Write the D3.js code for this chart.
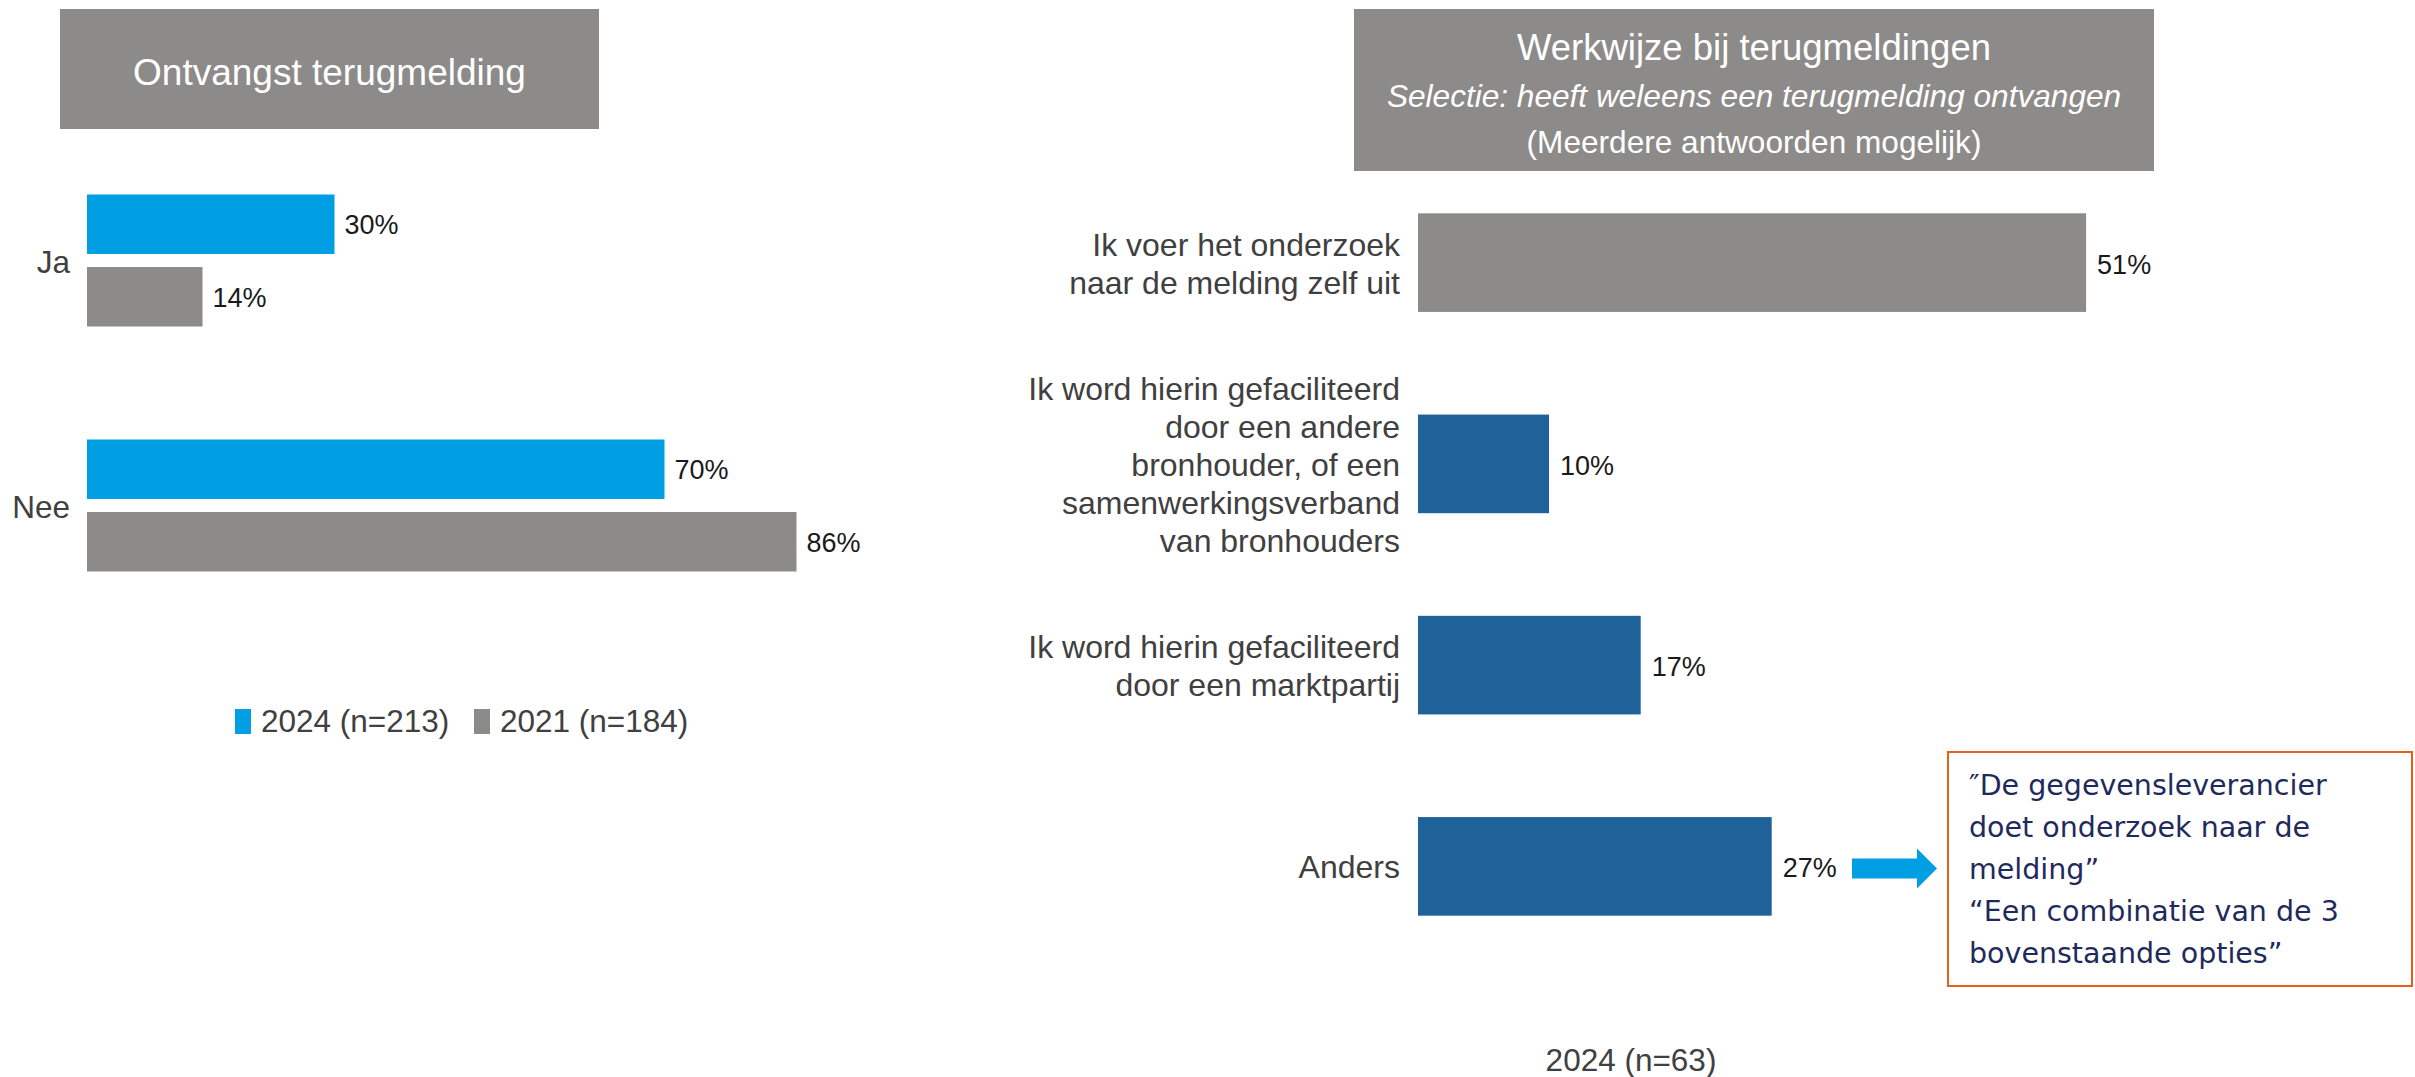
<!doctype html>
<html>
<head>
<meta charset="utf-8">
<script type='text/javascript' src='https://d3js.org/d3.v7.min.js'></script>
<style>
body { margin:0; background:#fff; }
text { font-family: "Liberation Sans", Arial, sans-serif; }
</style>
</head>
<body>
<script>
var width = 2415, height = 1077;

// data
var leftCats = ['Ja', 'Nee'];
var leftSeries = ['2024 (n=213)', '2021 (n=184)'];
var left2024 = [30, 70];
var left2021 = [14, 86];

var rightCats = [
  ['Ik voer het onderzoek', 'naar de melding zelf uit'],
  ['Ik word hierin gefaciliteerd', 'door een andere', 'bronhouder, of een', 'samenwerkingsverband', 'van bronhouders'],
  ['Ik word hierin gefaciliteerd', 'door een marktpartij'],
  ['Anders']
];
var right2024 = [51, 10, 17, 27];
var rightLegend = '2024 (n=63)';

var noteLines = ['\u2033De gegevensleverancier', 'doet onderzoek naar de', 'melding\u201D', '\u201CEen combinatie van de 3', 'bovenstaande opties\u201D'];

var blue = '#009fe3', grey = '#8c8b89', darkBlue = '#1f6299';

var svg = d3.select('body').append('svg').attr('width', width).attr('height', height);

// ---------- left chart
svg.append('rect').attr('x', 60).attr('y', 9).attr('width', 539).attr('height', 120).attr('fill', grey);
svg.append('text').attr('x', 329.5).attr('y', 85).attr('text-anchor', 'middle')
  .attr('fill', '#fff').style('font-size', '37px').text('Ontvangst terugmelding');

var xL = d3.scaleLinear().domain([0, 100]).range([87, 912]);
var yL = d3.scaleBand().domain(leftCats).range([138, 628]);
var yIn = d3.scaleBand().domain(leftSeries).range([-66, 66]).paddingInner(0.18);
var colL = d3.scaleOrdinal().domain(leftSeries).range([blue, grey]);

var rowsL = [];
leftCats.forEach(function(c, i) {
  rowsL.push({cat: c, s: leftSeries[0], v: left2024[i]});
  rowsL.push({cat: c, s: leftSeries[1], v: left2021[i]});
});

var gL = svg.append('g');
gL.selectAll('rect.bar').data(rowsL).join('rect')
  .attr('class', 'bar')
  .attr('x', xL(0))
  .attr('y', function(d) { return yL(d.cat) + yL.bandwidth() / 2 + yIn(d.s); })
  .attr('width', function(d) { return xL(d.v) - xL(0); })
  .attr('height', yIn.bandwidth())
  .attr('fill', function(d) { return colL(d.s); });

gL.selectAll('text.val').data(rowsL).join('text')
  .attr('class', 'val')
  .attr('x', function(d) { return xL(d.v) + 10; })
  .attr('y', function(d) { return yL(d.cat) + yL.bandwidth() / 2 + yIn(d.s) + yIn.bandwidth() / 2 + 10; })
  .attr('fill', '#1a1a1a').style('font-size', '27px')
  .text(function(d) { return d.v + '%'; });

gL.selectAll('text.cat').data(leftCats).join('text')
  .attr('class', 'cat')
  .attr('x', 70).attr('text-anchor', 'end')
  .attr('y', function(d) { return yL(d) + yL.bandwidth() / 2 + 12; })
  .attr('fill', '#404040').style('font-size', '31.5px')
  .text(function(d) { return d; });

// legend
var legX = [235, 474];
var leg = svg.append('g').selectAll('g').data(leftSeries).join('g')
  .attr('transform', function(d, i) { return 'translate(' + legX[i] + ',709)'; });
leg.append('rect').attr('width', 16).attr('height', 25).attr('fill', function(d) { return colL(d); });
leg.append('text').attr('x', 26).attr('y', 23).attr('fill', '#404040').style('font-size', '31.5px')
  .text(function(d) { return d; });

// ---------- right chart
svg.append('rect').attr('x', 1354).attr('y', 9).attr('width', 800).attr('height', 162).attr('fill', grey);
var tR = svg.append('text').attr('text-anchor', 'middle').attr('fill', '#fff');
tR.append('tspan').attr('x', 1754).attr('y', 60).style('font-size', '36.5px').text('Werkwijze bij terugmeldingen');
tR.append('tspan').attr('x', 1754).attr('y', 107).style('font-size', '31.6px').style('font-style', 'italic')
  .text('Selectie: heeft weleens een terugmelding ontvangen');
tR.append('tspan').attr('x', 1754).attr('y', 153).style('font-size', '31.6px').text('(Meerdere antwoorden mogelijk)');

var idx = d3.range(rightCats.length);
var xR = d3.scaleLinear().domain([0, 100]).range([1418, 2728]);
var yR = d3.scaleBand().domain(idx).range([162, 967]).paddingInner(0.51).paddingOuter(0.255);

var gR = svg.append('g');
gR.selectAll('rect').data(idx).join('rect')
  .attr('x', xR(0))
  .attr('y', function(i) { return yR(i); })
  .attr('width', function(i) { return xR(right2024[i]) - xR(0); })
  .attr('height', yR.bandwidth())
  .attr('fill', function(i) { return i === 0 ? grey : darkBlue; });

gR.selectAll('text.val').data(idx).join('text')
  .attr('class', 'val')
  .attr('x', function(i) { return xR(right2024[i]) + 11; })
  .attr('y', function(i) { return yR(i) + yR.bandwidth() / 2 + 11; })
  .attr('fill', '#1a1a1a').style('font-size', '27px')
  .text(function(i) { return right2024[i] + '%'; });

var lh = 38;
gR.selectAll('text.cat').data(idx).join('text')
  .attr('class', 'cat')
  .attr('text-anchor', 'end').attr('fill', '#404040').style('font-size', '32px')
  .each(function(i) {
    var lines = rightCats[i];
    var cy = yR(i) + yR.bandwidth() / 2 + 12 - (lines.length - 1) * lh / 2;
    d3.select(this).selectAll('tspan').data(lines).join('tspan')
      .attr('x', 1400).attr('y', function(d, k) { return cy + k * lh; })
      .text(function(d) { return d; });
  });

svg.append('text').attr('x', 1631).attr('y', 1071).attr('text-anchor', 'middle')
  .attr('fill', '#404040').style('font-size', '31.5px').text(rightLegend);

// arrow to annotation
var ay = yR(3) + yR.bandwidth() / 2 + 2;
svg.append('path')
  .attr('d', 'M1852,' + (ay - 10) + 'H1917V' + (ay - 20) + 'L1937,' + ay + 'L1917,' + (ay + 20) + 'V' + (ay + 10) + 'H1852Z')
  .attr('fill', blue);

// annotation box
svg.append('rect').attr('x', 1948).attr('y', 752).attr('width', 464).attr('height', 234)
  .attr('fill', '#fff').attr('stroke', '#e2611b').attr('stroke-width', 2);
svg.append('text').attr('fill', '#1f2a5c').style('font-family', '"DejaVu Sans", Verdana, sans-serif').style('font-size', '28.5px')
  .selectAll('tspan').data(noteLines).join('tspan')
  .attr('x', 1969).attr('y', function(d, k) { return 795 + k * 42; })
  .text(function(d) { return d; });

console.log('ready..');
</script>
</body>
</html>
